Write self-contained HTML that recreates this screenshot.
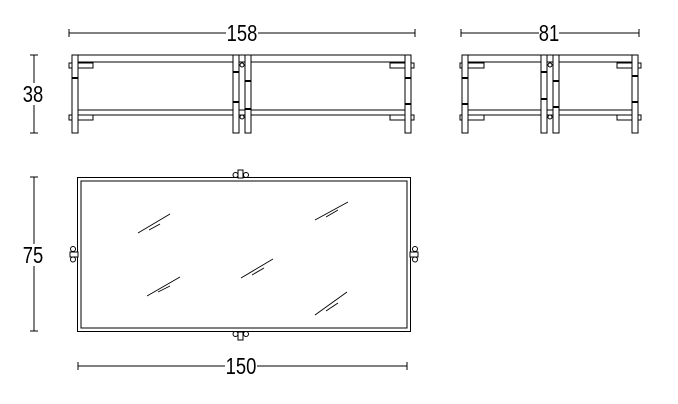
<!DOCTYPE html>
<html><head><style>
html,body{margin:0;padding:0;background:#fff;}
svg{display:block;}
text{font-family:"Liberation Sans",sans-serif;font-size:23px;fill:#000;}
</style></head><body>
<svg width="678" height="404" viewBox="0 0 678 404" xmlns="http://www.w3.org/2000/svg">
<g stroke="#000" stroke-width="1" fill="none">
<line x1="69" y1="33" x2="415" y2="33"/><line x1="69" y1="29" x2="69" y2="37"/><line x1="415" y1="29" x2="415" y2="37"/>
<line x1="461" y1="33" x2="639" y2="33"/><line x1="461" y1="29" x2="461" y2="37"/><line x1="639" y1="29" x2="639" y2="37"/>
<line x1="34" y1="55" x2="34" y2="133"/><line x1="30" y1="55" x2="38" y2="55"/><line x1="30" y1="133" x2="38" y2="133"/>
<line x1="34" y1="177" x2="34" y2="331"/><line x1="30" y1="177" x2="38" y2="177"/><line x1="30" y1="331" x2="38" y2="331"/>
<line x1="78" y1="366" x2="407" y2="366"/><line x1="78" y1="362" x2="78" y2="370"/><line x1="407" y1="362" x2="407" y2="370"/>
</g>
<rect x="226" y="22" width="32" height="22" fill="#fff"/>
<text transform="translate(242,41) scale(0.8,1)" text-anchor="middle">158</text>
<rect x="539" y="22" width="20" height="22" fill="#fff"/>
<text transform="translate(549,41) scale(0.8,1)" text-anchor="middle">81</text>
<rect x="22" y="83" width="24" height="22" fill="#fff"/>
<text transform="translate(33,102) scale(0.8,1)" text-anchor="middle">38</text>
<rect x="22" y="244" width="24" height="22" fill="#fff"/>
<text transform="translate(33,263) scale(0.8,1)" text-anchor="middle">75</text>
<rect x="225" y="355" width="32" height="22" fill="#fff"/>
<text transform="translate(241,374) scale(0.8,1)" text-anchor="middle">150</text>

<g stroke="#000" stroke-width="1" fill="#fff">
<line x1="72" y1="55" x2="411" y2="55"/><line x1="72" y1="62" x2="411" y2="62"/>
<line x1="72" y1="110" x2="411" y2="110"/><line x1="72" y1="115" x2="411" y2="115"/>
<rect x="69" y="63" width="24" height="5"/><rect x="69" y="115" width="24" height="5"/>
<rect x="390" y="63" width="24" height="5"/><rect x="390" y="115" width="24" height="5"/>
<rect x="72" y="55" width="6" height="78"/><rect x="233" y="55" width="6" height="78"/>
<rect x="245" y="55" width="6" height="78"/><rect x="405" y="55" width="6" height="78"/>
<circle cx="242" cy="65" r="2"/><circle cx="242" cy="117" r="2"/>
</g>
<g stroke="#000" stroke-width="2">
<line x1="72" y1="78" x2="78" y2="78"/><line x1="233" y1="72" x2="239" y2="72"/><line x1="233" y1="102" x2="239" y2="102"/>
<line x1="245" y1="81" x2="251" y2="81"/><line x1="245" y1="109" x2="251" y2="109"/>
<line x1="405" y1="78" x2="411" y2="78"/><line x1="405" y1="104" x2="411" y2="104"/>
</g>
<g stroke="#000" stroke-width="1" fill="#fff">
<line x1="462" y1="55" x2="638" y2="55"/><line x1="462" y1="62" x2="638" y2="62"/>
<line x1="462" y1="110" x2="638" y2="110"/><line x1="462" y1="115" x2="638" y2="115"/>
<rect x="460" y="63" width="24" height="5"/><rect x="460" y="115" width="24" height="5"/>
<rect x="617" y="63" width="24" height="5"/><rect x="617" y="115" width="24" height="5"/>
<rect x="462" y="55" width="6" height="78"/><rect x="541" y="55" width="6" height="78"/>
<rect x="553" y="55" width="6" height="78"/><rect x="632" y="55" width="6" height="78"/>
<circle cx="550" cy="65" r="2"/><circle cx="550" cy="117" r="2"/>
</g>
<g stroke="#000" stroke-width="2">
<line x1="462" y1="78" x2="468" y2="78"/><line x1="462" y1="104" x2="468" y2="104"/>
<line x1="541" y1="72" x2="547" y2="72"/><line x1="541" y1="99" x2="547" y2="99"/>
<line x1="553" y1="81" x2="559" y2="81"/><line x1="553" y1="107" x2="559" y2="107"/>
<line x1="632" y1="76" x2="638" y2="76"/><line x1="632" y1="102" x2="638" y2="102"/>
</g>
<g stroke="#000" stroke-width="1" fill="#fff">
<rect x="77.5" y="177.5" width="333" height="154"/>
<rect x="81" y="181" width="326" height="147"/>
<rect x="238" y="170" width="5" height="8"/><circle cx="235.5" cy="175" r="2.5"/><circle cx="246" cy="175" r="2.5"/>
<rect x="238" y="332" width="5" height="8"/><circle cx="235.5" cy="334" r="2.5"/><circle cx="246" cy="334" r="2.5"/>
<rect x="70" y="252" width="8" height="5"/><circle cx="73" cy="249" r="2.5"/><circle cx="73" cy="259.5" r="2.5"/>
<rect x="410" y="252" width="8" height="5"/><circle cx="415" cy="249" r="2.5"/><circle cx="415" cy="259.5" r="2.5"/>
</g>
<g stroke="#000" stroke-width="0.9">
<line x1="138" y1="233" x2="170" y2="214"/><line x1="149" y1="230" x2="160" y2="224"/>
<line x1="147" y1="296" x2="180" y2="277"/><line x1="158" y1="292" x2="170" y2="286"/>
<line x1="241" y1="278" x2="273" y2="259"/><line x1="252" y1="275" x2="264" y2="268"/>
<line x1="315" y1="220" x2="348" y2="202"/><line x1="326" y1="217" x2="338" y2="210"/>
<line x1="315" y1="315" x2="347" y2="292"/><line x1="326" y1="311" x2="338" y2="303"/>
</g>
</svg>
</body></html>
